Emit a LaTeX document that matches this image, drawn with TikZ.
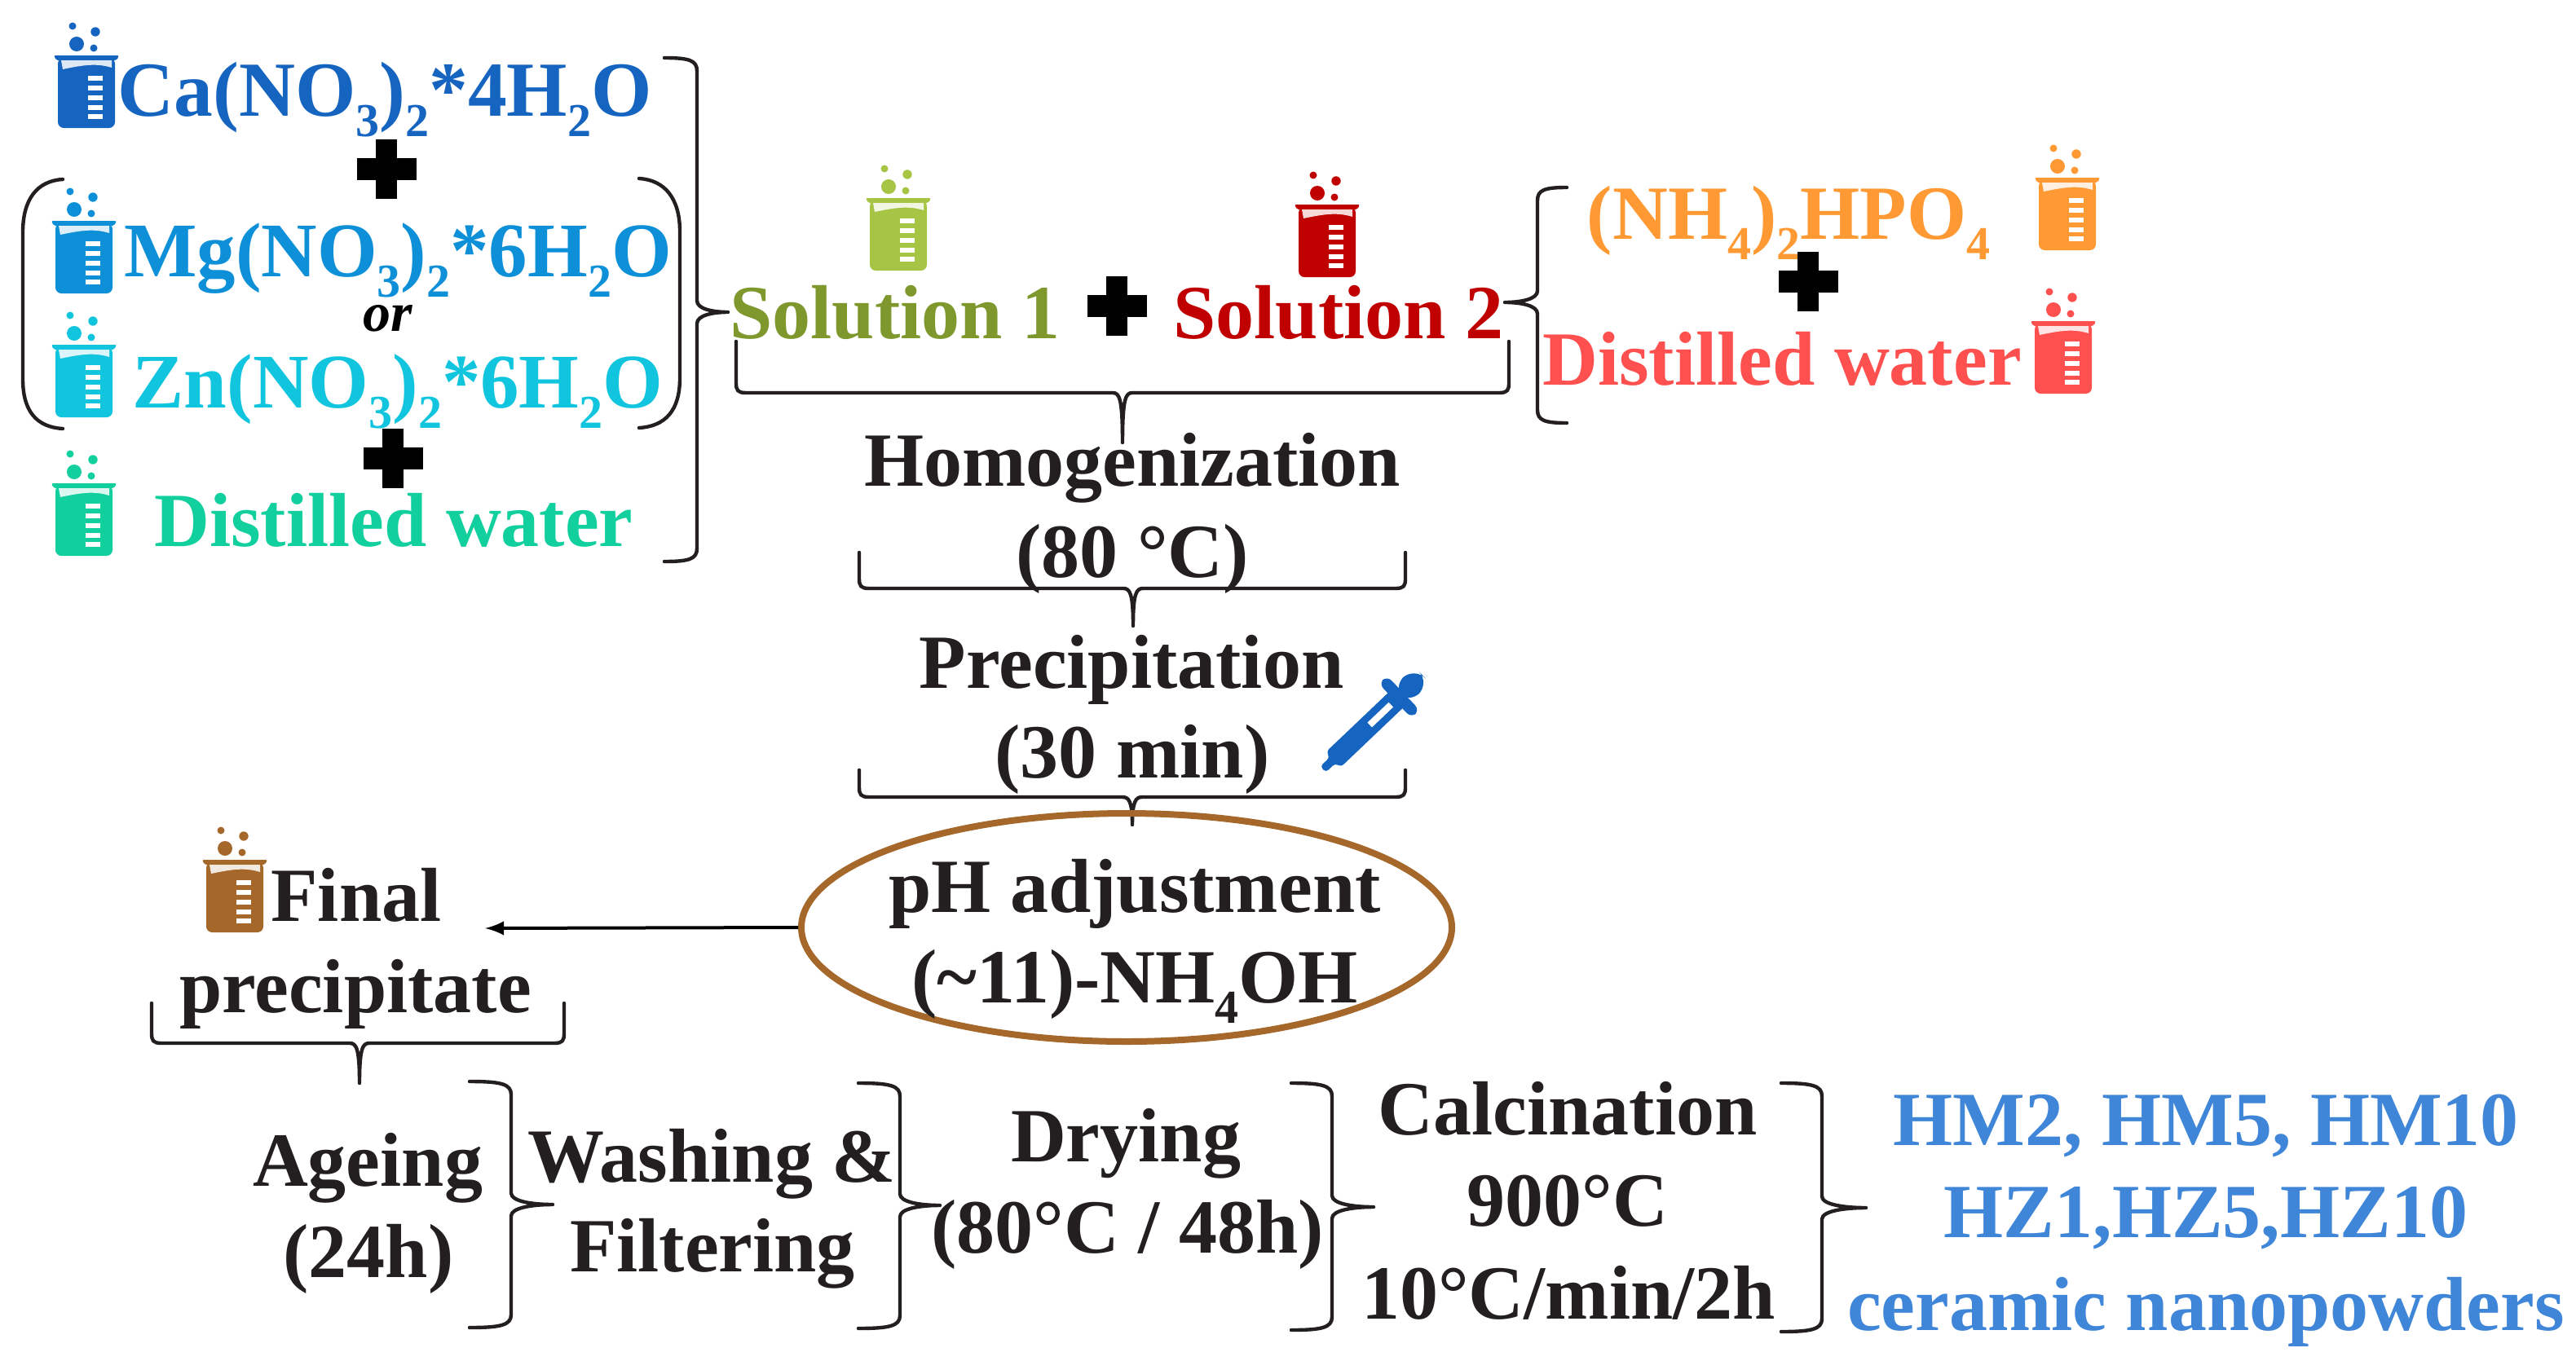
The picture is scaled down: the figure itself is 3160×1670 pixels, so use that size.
\documentclass[tikz,border=0pt]{standalone}
\usepackage{fontspec}
\setmainfont{Liberation Serif}
\usetikzlibrary{shapes.geometric}
\definecolor{colCa}{HTML}{1565C0}
\definecolor{colMg}{HTML}{0E90D8}
\definecolor{colZn}{HTML}{12C5DE}
\definecolor{colWat}{HTML}{12CF9E}
\definecolor{colSolA}{HTML}{7F982D}
\definecolor{colSolB}{HTML}{A6C544}
\definecolor{colRed}{HTML}{C00000}
\definecolor{colOrg}{HTML}{FF9933}
\definecolor{colPink}{HTML}{FF5050}
\definecolor{colBrn}{HTML}{A5682A}
\definecolor{colEnd}{HTML}{3F86D8}
\definecolor{colTxt}{HTML}{231F20}
\newcommand{\lowr}[1]{\raisebox{-.27em}{\fontsize{14.5}{14.5}\selectfont #1}}
% curly brace opening left or right: end x, spine x, tip x, top y, tip y, bottom y
\newcommand{\bracev}[6]{
	\draw [bracket] (#1,#4) .. controls (#2+#1*.25-#2*.25,#4) and (#2,#4+3) .. (#2,#4+16)
		-- (#2,#5-14) .. controls (#2,#5-4) and (#2*.5+#3*.5,#5) .. (#3,#5)
		.. controls (#2*.5+#3*.5,#5) and (#2,#5+4) .. (#2,#5+14)
		-- (#2,#6-16) .. controls (#2,#6-3) and (#2+#1*.25-#2*.25,#6) .. (#1,#6);
}
% curly brace under a text: left x, right x, leg y, spine y, tip x, tip y
\newcommand{\braceh}[6]{
	\draw [bracket] (#1,#3) -- (#1,#4-12) .. controls (#1,#4-3) and (#1+2,#4) .. (#1+12,#4)
		-- (#5-12,#4) .. controls (#5-4,#4) and (#5,#4+6) .. (#5,#6)
		.. controls (#5,#4+6) and (#5+4,#4) .. (#5+12,#4)
		-- (#2-12,#4) .. controls (#2-2,#4) and (#2,#4-3) .. (#2,#4-12) -- (#2,#3);
}
\tikzset{
	txt/.style={anchor=base, inner sep=0pt, yshift=-.5pt, text=colTxt, font=\fontsize{23.5}{28}\selectfont\bfseries},
	bigtxt/.style={txt, font=\fontsize{23.9}{28}\selectfont\bfseries},
	midtxt/.style={txt, font=\fontsize{23.7}{28}\selectfont\bfseries},
	bracket/.style={line width=1.1pt, line cap=round, line join=round, colTxt},
	pics/beaker/.style={code={
		\fill [#1, rounded corners=.5pt] (-40,0) -- (40,0) -- (37,6) -- (-37,6) -- cycle;
		\fill [#1, rounded corners=1.8pt] (-35,3) -- (35,3) -- (35,89) -- (-35,89) -- cycle;
		\fill [white, opacity=.85] (-31,6) -- (31,6) -- (31,15) .. controls (12,9) and (-5,12) .. (-29,17) -- cycle;
		\foreach \t in {25,37,49,61,72}{
			\fill [white] (2,\t) rectangle (20,\t+5.5);
		}
		\fill [#1] (-17,-36) circle (4.5) (11,-29) circle (5.7) (9,-9) circle (4.5) (-12,-14) circle (9);
	}},
	pics/plusmark/.style={code={
		\fill (-13,-36.5) rectangle (13,36.5);
		\fill (-36.5,-13.5) rectangle (36.5,13.5);
	}},
	pics/dropper/.style={code={
		\fill [colCa, rounded corners=1pt] (0,-5) -- (16,-5) -- (18,-13) -- (133,-13) -- (133,13) -- (18,13) -- (16,5) -- (0,5) -- cycle;
		\fill [white] (79,-4) rectangle (115,4);
		\fill [colCa, rounded corners=2pt] (122,-29) rectangle (136,29);
		\fill [colCa, rounded corners=5pt] (130,-14) rectangle (168,14);
	}}
}
\begin{document}
\begin{tikzpicture}[x=.25pt, y=-.25pt]
	\useasboundingbox (0,0) rectangle (3160,1670);
	% left group
	\pic at (106,68) {beaker=colCa};
	\pic at (103,271) {beaker=colMg};
	\pic at (103,423) {beaker=colZn};
	\pic at (103,593) {beaker=colWat};
	\node [bigtxt, text=colCa] (caSalt) at (472,140) {Ca(NO\lowr{3})\lowr{2}*4H\lowr{2}O};
	\node [midtxt, text=colMg] (mgSalt) at (488,337) {Mg(NO\lowr{3})\lowr{2}*6H\lowr{2}O};
	\node [midtxt, text=colZn] (znSalt) at (488,498) {Zn(NO\lowr{3})\lowr{2}*6H\lowr{2}O};
	\node [txt, text=colWat] (waterA) at (483,668) {Distilled water};
	\node [txt, text=black, font=\fontsize{17}{20}\selectfont\bfseries\itshape] (orWord) at (476,404) {or};
	\pic at (474,207) {plusmark};
	\pic at (482,562) {plusmark};
	\draw [bracket] (77,220) .. controls (45,222) and (28,245) .. (28,285) -- (28,465) .. controls (28,505) and (45,524) .. (77,526);
	\draw [bracket] (784,219) .. controls (816,221) and (834,244) .. (834,284) -- (834,464) .. controls (834,504) and (816,523) .. (784,525);
	\bracev{815}{855}{893}{71}{383}{689}
	% solutions
	\pic at (1102,243) {beaker=colSolB};
	\pic at (1628,251) {beaker=colRed};
	\node [txt, text=colSolA] (solOne) at (1098,413) {Solution 1};
	\node [txt, text=colRed] (solTwo) at (1642,413) {Solution 2};
	\pic at (1370,375) {plusmark};
	% right group
	\pic at (2536,218) {beaker=colOrg};
	\pic at (2531,394) {beaker=colPink};
	\node [txt, text=colOrg] (phosSalt) at (2194,291) {(NH\lowr{4})\lowr{2}HPO\lowr{4}};
	\node [txt, text=colPink] (waterB) at (2186,470) {Distilled water};
	\pic at (2218,345) {plusmark};
	\bracev{1922}{1886}{1846}{230}{371}{519}
	% middle column
	\braceh{903}{1851}{419}{482}{1377}{543}
	\node [txt] (homoA) at (1389,594) {Homogenization};
	\node [txt] (homoB) at (1389,706) {(80 °C)};
	\braceh{1054}{1724}{678}{722}{1390}{768}
	\node [txt] (precA) at (1388,842) {Precipitation};
	\node [txt] (precB) at (1389,952) {(30 min)};
	\pic [rotate=43.6] at (1623,944) {dropper};
	\braceh{1054}{1724}{945}{978}{1389}{1012}
	\node [ellipse, draw=colBrn, line width=2pt, minimum width=199.5pt, minimum height=70pt, inner sep=0pt] (phEll) at (1382,1138) {};
	\node [txt] (phA) at (1392,1117) {pH adjustment};
	\node [txt] (phB) at (1392,1228) {(\textasciitilde 11)-NH\lowr{4}OH};
	% final precipitate
	\coordinate (arrEnd) at (595,1139);
	\draw [line width=1pt, -latex] (phEll.west) -- (arrEnd);
	\pic at (288,1055) {beaker=colBrn};
	\node [txt] (finA) at (437,1128) {Final};
	\node [txt] (finB) at (436,1240) {precipitate};
	\braceh{186}{692}{1231}{1280}{441}{1329}
	% bottom row
	\node [txt] (ageA) at (451,1453) {Ageing};
	\node [txt] (ageB) at (452,1565) {(24h)};
	\bracev{576}{627}{678}{1327}{1478}{1629}
	\node [txt] (washA) at (873,1448) {Washing \&};
	\node [txt] (washB) at (874,1558) {Filtering};
	\bracev{1053}{1104}{1153}{1329}{1479}{1630}
	\node [txt] (dryA) at (1381,1423) {Drying};
	\node [txt] (dryB) at (1383,1535) {(80°C / 48h)};
	\bracev{1584}{1634}{1685}{1329}{1481}{1632}
	\node [txt] (calA) at (1923,1390) {Calcination};
	\node [txt] (calB) at (1923,1502) {900°C};
	\node [txt] (calC) at (1924,1616) {10°C/min/2h};
	\bracev{2185}{2235}{2289}{1329}{1482}{1634}
	\node [txt, text=colEnd] (endA) at (2706,1403) {HM2, HM5, HM10};
	\node [txt, text=colEnd] (endB) at (2706,1516) {HZ1,HZ5,HZ10};
	\node [txt, text=colEnd] (endC) at (2706,1630) {ceramic nanopowders};
\end{tikzpicture}
\end{document}
